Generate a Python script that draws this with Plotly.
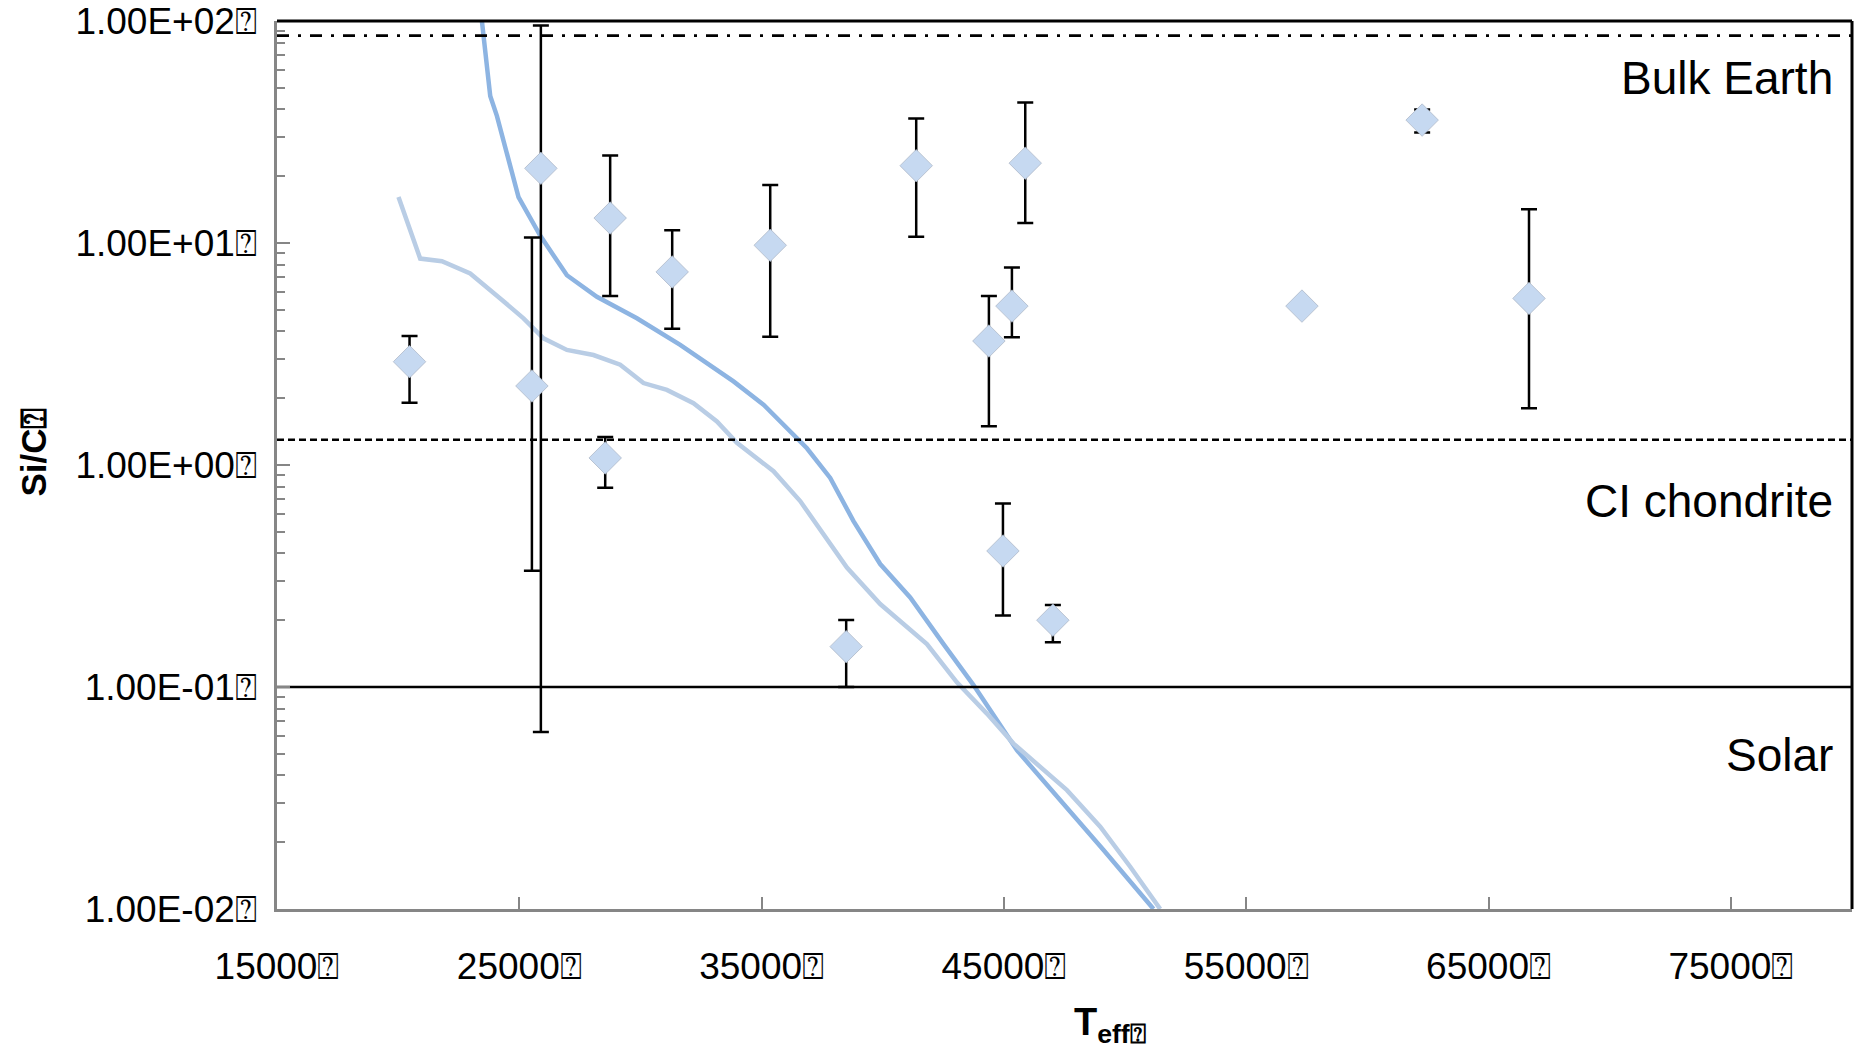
import plotly.graph_objects as go

# ---------------- data ----------------
# observed white dwarfs: Teff, Si/C, upper and lower error limits
star_teff = [20470, 25520, 25890, 28750, 28545, 31310, 35355, 38490, 41380,
             44380, 45330, 44960, 45880, 47020, 57300, 62260, 66670]
star_sic = [2.92, 2.27, 21.7, 12.96, 1.076, 7.41, 9.77, 0.152, 22.3,
            3.62, 5.2, 0.41, 22.9, 0.200, 5.2, 35.8, 5.63]
star_hi = [3.81, 10.6, 95.5, 24.8, 1.337, 11.41, 18.28, 0.2004, 36.4,
           5.77, 7.75, 0.6715, 43.0, 0.234, 5.2, 39.9, 14.2]
star_lo = [1.91, 0.334, 0.0627, 5.77, 0.789, 4.11, 3.78, 0.1, 10.68,
           1.494, 3.76, 0.210, 12.3, 0.159, 5.2, 31.5, 1.80]

# model curves
dark_teff = [23456, 23800, 24075, 24967, 25862, 26964, 28202, 29853, 31640,
             33840, 35078, 36869, 37831, 38792, 39894, 41132, 42507, 43745,
             45536, 47323, 49110, 51173]
dark_sic = [100, 46.0, 37.4, 16.1, 10.8, 7.16, 5.73, 4.58, 3.48,
            2.38, 1.87, 1.19, 0.875, 0.559, 0.358, 0.253, 0.156, 0.102,
            0.0519, 0.031, 0.01845, 0.01]
light_teff = [20014, 20910, 21805, 22973, 24211, 25173, 25998, 26964, 28062,
              29164, 30125, 31091, 32189, 33155, 33980, 35491, 36592, 37554,
              38520, 39894, 41822, 43059, 44297, 45395, 47600, 48974, 50212,
              51450]
light_sic = [16.1, 8.51, 8.28, 7.29, 5.63, 4.58, 3.72, 3.30, 3.13,
             2.83, 2.34, 2.18, 1.90, 1.57, 1.26, 0.938, 0.688, 0.488,
             0.345, 0.2365, 0.156, 0.105, 0.0759, 0.0556, 0.0343, 0.0235, 0.0155,
             0.01]

# reference abundance levels
ref_names = ["Bulk Earth", "CI chondrite", "Solar"]
ref_values = [86.0, 1.30, 0.10]

x_range = [15000, 80000]
x_ticks = [15000, 25000, 35000, 45000, 55000, 65000, 75000]
x_ticktext = ["15000⍰", "25000⍰", "35000⍰", "45000⍰", "55000⍰", "65000⍰", "75000⍰"]
y_ticks = [0.01, 0.1, 1, 10, 100]
y_ticktext = ["1.00E-02⍰", "1.00E-01⍰", "1.00E+00⍰", "1.00E+01⍰", "1.00E+02⍰"]

FONT = "Liberation Sans, Arial, sans-serif"

fig = go.Figure()

fig.add_trace(go.Scatter(x=dark_teff, y=dark_sic, mode="lines",
                         line=dict(color="#8DB4E2", width=4.5), showlegend=False))
fig.add_trace(go.Scatter(x=light_teff, y=light_sic, mode="lines",
                         line=dict(color="#B9CDE5", width=4.5), showlegend=False))

ref_dash = ["12px,9px,3px,9px", "7px,4px", "solid"]
for v, d in zip(ref_values, ref_dash):
    fig.add_trace(go.Scatter(x=x_range, y=[v, v], mode="lines",
                             line=dict(color="black", width=2.6, dash=d),
                             showlegend=False, cliponaxis=True))

err_plus = [h - v for h, v in zip(star_hi, star_sic)]
err_minus = [v - l for v, l in zip(star_sic, star_lo)]
fig.add_trace(go.Scatter(
    x=star_teff, y=star_sic, mode="markers",
    marker=dict(symbol="diamond", size=25, color="#C6D9F1",
                line=dict(color="rgba(170,180,195,0.7)", width=1)),
    error_y=dict(type="data", symmetric=False, array=err_plus,
                 arrayminus=err_minus, color="black", thickness=2.5, width=8),
    showlegend=False))

# black top / right frame
fig.add_shape(type="line", xref="paper", yref="paper", x0=0, x1=1, y0=1, y1=1,
              line=dict(color="black", width=3))
fig.add_shape(type="line", xref="paper", yref="paper", x0=1, x1=1, y0=0, y1=1,
              line=dict(color="black", width=3))

label_y = [0.9355, 0.4595, 0.1734]
for name, yy in zip(ref_names, label_y):
    fig.add_annotation(text=name, xref="paper", yref="paper", x=0.9894, y=yy,
                       xanchor="right", yanchor="middle", showarrow=False,
                       font=dict(family=FONT, size=46, color="black"))

fig.add_annotation(text="<b>Si/C⍰</b>", xref="paper", yref="paper",
                   x=-0.1545, y=0.5147, textangle=-90, showarrow=False,
                   xanchor="center", yanchor="middle",
                   font=dict(family=FONT, size=35, color="black"))
fig.add_annotation(text="<b>T<sub>eff⍰</sub></b>", xref="paper", yref="paper",
                   x=0.505, y=-0.1307, showarrow=False,
                   xanchor="left", yanchor="middle",
                   font=dict(family=FONT, size=38, color="black"))

fig.update_xaxes(range=x_range, tickvals=x_ticks, ticktext=x_ticktext,
                 showgrid=False, zeroline=False, showline=True,
                 linecolor="#868686", linewidth=2.5,
                 ticks="inside", ticklen=12, tickwidth=2, tickcolor="#868686",
                 ticklabelstandoff=23, ticklabeloverflow="allow", automargin=False,
                 tickfont=dict(family=FONT, size=37, color="black"))
fig.update_yaxes(type="log", range=[-2, 2.0002], tickvals=y_ticks, ticktext=y_ticktext,
                 showgrid=False, zeroline=False, showline=True,
                 linecolor="#868686", linewidth=2.5,
                 ticks="inside", ticklen=13, tickwidth=2, tickcolor="#868686",
                 minor=dict(ticks="inside", ticklen=8, tickwidth=2,
                            tickcolor="#868686", dtick="D1", showgrid=False),
                 ticklabelstandoff=10, ticklabeloverflow="allow", automargin=False,
                 tickfont=dict(family=FONT, size=37, color="black"))

fig.update_layout(width=1865, height=1060,
                  margin=dict(l=277, r=13, t=21, b=151, autoexpand=False),
                  paper_bgcolor="white", plot_bgcolor="white",
                  font=dict(family=FONT, color="black"))

fig.write_html("out.html", config={"displayModeBar": False},
               post_script="document.body.style.margin='0';")
